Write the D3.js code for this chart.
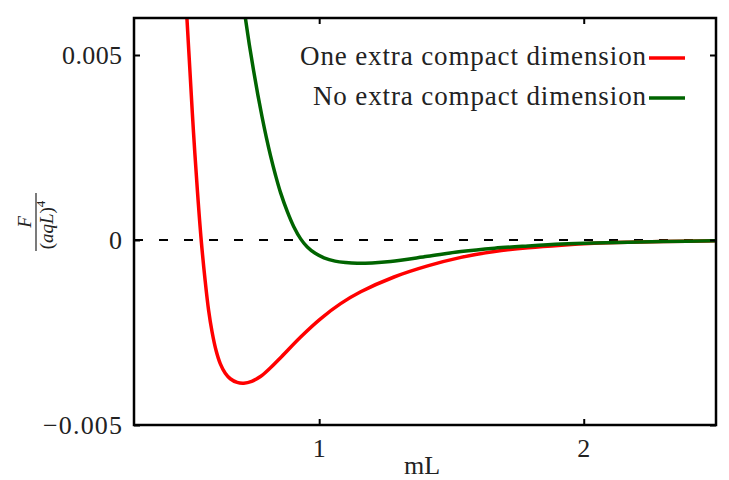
<!DOCTYPE html>
<html>
<head>
<meta charset="utf-8">
<script src="https://cdn.jsdelivr.net/npm/d3@7"></script>
<style>
  body { margin: 0; background: #fff; }
</style>
</head>
<body>
<div id="chart"></div>
<script>
// values
const redX = [0.500, 0.512, 0.525, 0.540, 0.554, 0.569, 0.582, 0.595, 0.610, 0.626, 0.645, 0.664, 0.690, 0.715, 0.745, 0.778, 0.815, 0.854, 0.930, 1.005, 1.081, 1.157, 1.283, 1.410, 1.536, 1.663, 1.790, 1.916, 2.040, 2.170, 2.300, 2.500];
const redY = [0.0060, 0.0045, 0.0029, 0.0013, 0.0000, -0.0011, -0.0019, -0.00248, -0.00298, -0.00334, -0.00360, -0.00375, -0.00385, -0.00387, -0.00382, -0.00369, -0.00346, -0.00318, -0.00262, -0.00213, -0.00172, -0.00140, -0.00100, -0.00070, -0.00047, -0.00031, -0.00021, -0.00014, -0.00009, -0.00006, -0.00004, -0.00002];

const greenX = [0.721, 0.736, 0.752, 0.768, 0.784, 0.800, 0.816, 0.835, 0.854, 0.880, 0.904, 0.930, 0.955, 0.985, 1.018, 1.060, 1.100, 1.144, 1.200, 1.270, 1.410, 1.536, 1.663, 1.790, 1.916, 2.040, 2.170, 2.300, 2.500];
const greenY = [0.0060, 0.00528, 0.00458, 0.00393, 0.00333, 0.00278, 0.00228, 0.00175, 0.00128, 0.00076, 0.00036, 0.00003, -0.00019, -0.00036, -0.00048, -0.00057, -0.00061, -0.00063, -0.00062, -0.00058, -0.00044, -0.00031, -0.00022, -0.00016, -0.00011, -0.00008, -0.00006, -0.00004, -0.00002];

const xTicks = [1, 2];
const yTicks = [-0.005, 0, 0.005];
const yTickLabels = ["\u22120.005", "0", "0.005"];
const seriesNames = ["One extra compact dimension", "No extra compact dimension"];
const seriesColors = ["#ff0000", "#006400"];

const serif = "'Liberation Serif', 'DejaVu Serif', 'Noto Serif', 'Times New Roman', Times, serif";

const width = 729, height = 480;
const margin = { left: 134, top: 18, right: 13, bottom: 55 };
const innerW = width - margin.left - margin.right;
const innerH = height - margin.top - margin.bottom;

const svg = d3.select("#chart")
    .append("svg")
    .attr("width", width)
    .attr("height", height)
    .attr("font-family", serif);

const x = d3.scaleLinear().domain([0.3, 2.5]).range([margin.left, margin.left + innerW]);
const y = d3.scaleLinear().domain([-0.005, 0.006]).range([margin.top + innerH, margin.top]);

svg.append("clipPath")
    .attr("id", "clip")
    .append("rect")
    .attr("x", margin.left)
    .attr("y", margin.top)
    .attr("width", innerW)
    .attr("height", innerH);

// zero line
svg.append("line")
    .attr("x1", x(0.3))
    .attr("x2", x(2.5))
    .attr("y1", y(0))
    .attr("y2", y(0))
    .attr("stroke", "#000")
    .attr("stroke-width", 2)
    .attr("stroke-dasharray", "9,16");

const line = d3.line()
    .x((d) => x(d[0]))
    .y((d) => y(d[1]))
    .curve(d3.curveCatmullRom.alpha(0.5));

const series = [
    d3.zip(redX, redY),
    d3.zip(greenX, greenY)
];

svg.append("g")
    .attr("clip-path", "url(#clip)")
    .selectAll("path")
    .data(series)
    .enter()
    .append("path")
    .attr("d", (d) => line(d))
    .attr("fill", "none")
    .attr("stroke", (d, i) => seriesColors[i])
    .attr("stroke-width", 3.5)
    .attr("stroke-linejoin", "round");

// axes with inward ticks
const tickLen = 6;
svg.append("g")
    .attr("transform", `translate(0,${margin.top + innerH})`)
    .call(d3.axisBottom(x).tickValues(xTicks).tickSize(-tickLen).tickFormat(""))
    .call((g) => g.select(".domain").remove());
svg.append("g")
    .attr("transform", `translate(0,${margin.top})`)
    .call(d3.axisTop(x).tickValues(xTicks).tickSize(-tickLen).tickFormat(""))
    .call((g) => g.select(".domain").remove());
svg.append("g")
    .attr("transform", `translate(${margin.left},0)`)
    .call(d3.axisLeft(y).tickValues(yTicks).tickSize(-tickLen).tickFormat(""))
    .call((g) => g.select(".domain").remove());
svg.append("g")
    .attr("transform", `translate(${margin.left + innerW},0)`)
    .call(d3.axisRight(y).tickValues(yTicks).tickSize(-tickLen).tickFormat(""))
    .call((g) => g.select(".domain").remove());
svg.selectAll(".tick line").attr("stroke", "#000").attr("stroke-width", 2);

svg.append("rect")
    .attr("x", margin.left)
    .attr("y", margin.top)
    .attr("width", innerW)
    .attr("height", innerH)
    .attr("fill", "none")
    .attr("stroke", "#000")
    .attr("stroke-width", 2.5);

// tick labels
svg.selectAll(".xlab")
    .data(xTicks)
    .enter()
    .append("text")
    .attr("x", (d) => x(d))
    .attr("y", 457)
    .attr("text-anchor", "middle")
    .attr("font-family", serif)
    .attr("font-size", 26)
    .attr("fill", "#222")
    .text((d) => d);

const yLabelWidths = [79, 14, 60];
svg.selectAll(".ylab")
    .data(yTicks)
    .enter()
    .append("text")
    .attr("x", margin.left - 12)
    .attr("y", (d) => y(d) + 9)
    .attr("text-anchor", "end")
    .attr("font-family", serif)
    .attr("font-size", 26)
    .attr("fill", "#222")
    .attr("textLength", (d, i) => yLabelWidths[i])
    .attr("lengthAdjust", "spacing")
    .text((d, i) => yTickLabels[i]);

// axis titles
svg.append("text")
    .attr("x", 422)
    .attr("y", 474)
    .attr("text-anchor", "middle")
    .attr("font-family", serif)
    .attr("font-size", 26)
    .attr("fill", "#222")
    .text("mL");

const yt = svg.append("g").attr("transform", "translate(36,222) rotate(-90)");
yt.append("line")
    .attr("x1", -29).attr("x2", 29)
    .attr("y1", 0).attr("y2", 0)
    .attr("stroke", "#222").attr("stroke-width", 1.2);
yt.append("text")
    .attr("x", 0).attr("y", -5)
    .attr("text-anchor", "middle")
    .attr("font-family", serif)
    .attr("font-size", 19)
    .attr("font-style", "italic")
    .attr("fill", "#222")
    .text("F");
const den = yt.append("text")
    .attr("x", -3).attr("y", 17)
    .attr("text-anchor", "middle")
    .attr("font-family", serif)
    .attr("font-size", 19)
    .attr("fill", "#222");
den.append("tspan").text("(");
den.append("tspan").attr("font-style", "italic").text("aqL");
den.append("tspan").text(")");
den.append("tspan").attr("font-size", 13).attr("dy", -8).text("4");

// legend
const legendWidths = [346, 333];
const legend = svg.selectAll(".legend")
    .data(seriesNames)
    .enter()
    .append("g")
    .attr("transform", (d, i) => `translate(0,${58 + i * 40})`);
legend.append("text")
    .attr("x", 646)
    .attr("y", 7)
    .attr("text-anchor", "end")
    .attr("font-family", serif)
    .attr("font-size", 27)
    .attr("fill", "#222")
    .attr("textLength", (d, i) => legendWidths[i])
    .attr("lengthAdjust", "spacing")
    .text((d) => d);
legend.append("line")
    .attr("x1", 649).attr("x2", 685)
    .attr("y1", 0).attr("y2", 0)
    .attr("stroke", (d, i) => seriesColors[i])
    .attr("stroke-width", 3.5);
</script>
</body>
</html>
